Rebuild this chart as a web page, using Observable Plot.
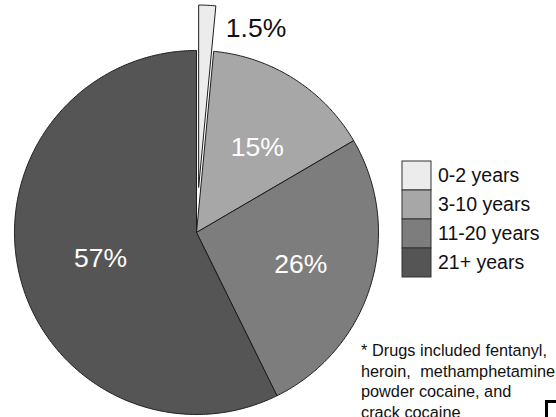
<!DOCTYPE html>
<html><head><meta charset="utf-8">
<script src="https://cdn.jsdelivr.net/npm/d3@7"></script>
<script src="https://cdn.jsdelivr.net/npm/@observablehq/plot@0.6"></script>
<style>
html,body{margin:0;padding:0;background:#fff;width:556px;height:417px;overflow:hidden;position:relative;font-family:"Liberation Sans",Arial,sans-serif;}
#pie{position:absolute;left:0;top:0;}
#legend{position:absolute;left:401px;top:160px;}
#note{position:absolute;left:361px;top:340px;font-size:16.3px;line-height:20.5px;color:#111;white-space:nowrap;}
.jl{text-align:justify;text-align-last:justify;}
#logo{position:absolute;left:545px;top:400px;width:22px;height:22px;border:3px solid #000;box-sizing:border-box;background:#fff;}
</style></head><body>
<div id="pie"></div><div id="legend"></div>
<div id="note"><div class="jl" style="width:186px">* Drugs included fentanyl,</div><div style="word-spacing:5px">heroin, methamphetamine,</div><div>powder cocaine, and</div><div>crack cocaine</div></div>
<div id="logo"></div>
<script>
const categories = ["0-2 years", "3-10 years", "11-20 years", "21+ years"];
const shares = [1.5, 15, 26, 57];
const labels = ["1.5%", "15%", "26%", "57%"];
const colors = ["#ececec", "#a7a7a7", "#7d7d7d", "#555555"];
const exploded = [true, false, false, false];

const FONT = '"Liberation Sans", Arial, sans-serif';
const rows = categories.map((c, i) => ({category: c, share: shares[i], label: labels[i], explode: exploded[i]}));
const arcs = d3.pie().sort(null).value(d => d.share)(rows);
const explodeR = 0.25;
const labelR = 0.57;

const polys = arcs.map(a => {
  const mid = (a.startAngle + a.endAngle) / 2;
  const off = a.data.explode ? explodeR : 0;
  const cx = off * Math.sin(mid), cy = off * Math.cos(mid);
  const n = Math.max(2, Math.ceil((a.endAngle - a.startAngle) / 0.01));
  const pts = [{x: cx, y: cy}];
  for (let k = 0; k <= n; k++) {
    const t = a.startAngle + (a.endAngle - a.startAngle) * k / n;
    pts.push({x: cx + Math.sin(t), y: cy + Math.cos(t)});
  }
  pts.push({x: cx, y: cy});
  return pts;
});

const inner = arcs.filter(a => !a.data.explode).map(a => {
  const mid = (a.startAngle + a.endAngle) / 2;
  return {x: labelR * Math.sin(mid), y: labelR * Math.cos(mid), label: a.data.label};
});
const outer = arcs.filter(a => a.data.explode).map(a => {
  const mid = (a.startAngle + a.endAngle) / 2;
  return {x: explodeR * Math.sin(mid) + Math.sin(a.endAngle), y: explodeR * Math.cos(mid) + Math.cos(a.endAngle), label: a.data.label};
});

const pie = Plot.plot({
  width: 556, height: 417,
  marginLeft: 14, marginRight: 178, marginTop: 50, marginBottom: 3,
  x: {domain: [-1, 1], axis: null},
  y: {domain: [-1, 1], axis: null},
  style: {fontFamily: FONT, background: "transparent", overflow: "visible"},
  marks: [
    ...polys.map((pts, i) => Plot.line(pts, {x: "x", y: "y", fill: colors[i], stroke: "#1c1c1c", strokeWidth: 1, strokeLinejoin: "miter"})),
    Plot.text(inner, {x: "x", y: "y", text: "label", fill: "white", fontSize: 26.5, fontFamily: FONT, dx: 5, dy: 2}),
    Plot.text(outer, {x: "x", y: "y", text: "label", fill: "#111", fontSize: 26.5, fontFamily: FONT, textAnchor: "start", dx: 10, dy: 23})
  ]
});
document.getElementById("pie").appendChild(pie);

const legend = Plot.plot({
  width: 155, height: 118,
  marginLeft: 0.5, marginRight: 125.5, marginTop: 0.5, marginBottom: 0.5,
  x: {domain: ["swatch"], padding: 0, axis: null},
  y: {domain: categories, padding: 0, axis: null},
  color: {domain: categories, range: colors},
  style: {fontFamily: FONT, background: "transparent", overflow: "visible"},
  marks: [
    Plot.cell(categories, {x: () => "swatch", y: d => d, fill: d => d, stroke: "#333", strokeWidth: 1, inset: 0}),
    Plot.text(categories, {x: () => "swatch", y: d => d, text: d => d, textAnchor: "start", dx: 21, fontSize: 19.5, fill: "#111", fontFamily: FONT})
  ]
});
document.getElementById("legend").appendChild(legend);
</script>
</body></html>
